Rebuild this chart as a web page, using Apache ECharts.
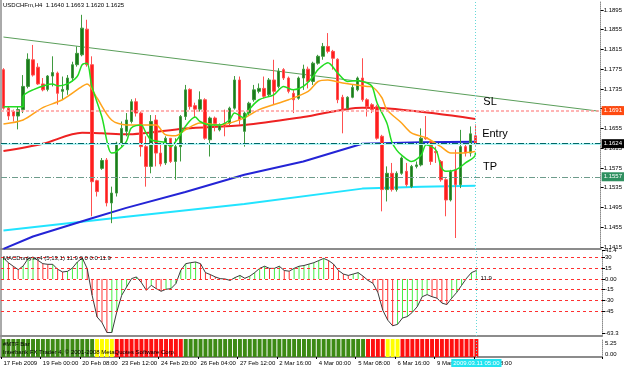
<!DOCTYPE html>
<html>
<head>
<meta charset="utf-8">
<script src="https://cdn.jsdelivr.net/npm/echarts@6/dist/echarts.min.js"></script>
<style>
html, body { margin: 0; padding: 0; background: #fff; }
#chart { width: 625px; height: 368px; }
</style>
</head>
<body>
<div id="chart"></div>
<script>
// USDCHFm H4 candles
var opens = [1.1774,1.1696,1.1689,1.1680,1.1693,1.1740,1.1794,1.1779,1.1745,1.1734,
  1.1761,1.1767,1.1730,1.1733,1.1757,1.1784,1.1804,1.1856,1.1784,1.1549,
  1.1574,1.1591,1.1504,1.1524,1.1625,1.1649,1.1669,1.1709,1.1686,1.1618,
  1.1578,1.1672,1.1605,1.1585,1.1635,1.1588,1.1618,1.1679,1.1734,1.1701,
  1.1694,1.1713,1.1632,1.1676,1.1652,1.1665,1.1665,1.1696,1.1753,1.1649,
  1.1686,1.1713,1.1730,1.1736,1.1723,1.1753,1.1740,1.1774,1.1757,1.1726,
  1.1716,1.1757,1.1775,1.1750,1.1787,1.1801,1.1821,1.1811,1.1795,1.1718,
  1.1696,1.1718,1.1733,1.1757,1.1713,1.1703,1.1699,1.1639,1.1531,1.1564,
  1.1531,1.1564,1.1568,1.1537,1.1578,1.1581,1.1636,1.1628,1.1608,1.1588,
  1.1551,1.1510,1.1571,1.1541,1.1618,1.1605,1.1640];
var highs = [1.1777,1.1699,1.1693,1.1699,1.1763,1.1807,1.1824,1.1787,1.1757,1.1763,
  1.1801,1.1770,1.1760,1.1763,1.1790,1.1821,1.1885,1.1875,1.1801,1.1551,
  1.1595,1.1595,1.1537,1.1628,1.1669,1.1686,1.1714,1.1716,1.1689,1.1639,
  1.1682,1.1682,1.1622,1.1639,1.1635,1.1635,1.1682,1.1743,1.1736,1.1707,
  1.1730,1.1716,1.1679,1.1679,1.1665,1.1693,1.1699,1.1761,1.1760,1.1689,
  1.1709,1.1743,1.1746,1.1760,1.1757,1.1794,1.1777,1.1777,1.1760,1.1733,
  1.1760,1.1784,1.1780,1.1790,1.1804,1.1828,1.1848,1.1814,1.1797,1.1723,
  1.1720,1.1743,1.1760,1.1797,1.1716,1.1706,1.1703,1.1642,1.1578,1.1585,
  1.1568,1.1598,1.1585,1.1581,1.1588,1.1655,1.1680,1.1632,1.1618,1.1591,
  1.1554,1.1571,1.1612,1.1652,1.1625,1.1659,1.1663];
var lows = [1.1693,1.1672,1.1669,1.1653,1.1686,1.1736,1.1760,1.1743,1.1730,1.1730,
  1.1740,1.1703,1.1713,1.1723,1.1750,1.1780,1.1801,1.1780,1.1477,1.1517,
  1.1571,1.1497,1.1463,1.1517,1.1618,1.1639,1.1665,1.1679,1.1598,1.1537,
  1.1564,1.1578,1.1578,1.1581,1.1585,1.1551,1.1588,1.1672,1.1693,1.1676,
  1.1689,1.1632,1.1598,1.1649,1.1649,1.1639,1.1662,1.1693,1.1662,1.1618,
  1.1682,1.1709,1.1726,1.1716,1.1720,1.1703,1.1736,1.1753,1.1726,1.1686,
  1.1713,1.1733,1.1736,1.1743,1.1784,1.1794,1.1807,1.1774,1.1706,1.1645,
  1.1693,1.1716,1.1730,1.1709,1.1679,1.1686,1.1632,1.1487,1.1507,1.1527,
  1.1527,1.1561,1.1537,1.1534,1.1574,1.1578,1.1632,1.1581,1.1585,1.1547,
  1.1477,1.1507,1.1433,1.1534,1.1598,1.1598,1.1620];
var closes = [1.1696,1.1680,1.1680,1.1693,1.1740,1.1795,1.1763,1.1745,1.1733,1.1761,
  1.1768,1.1726,1.1734,1.1757,1.1784,1.1807,1.1858,1.1784,1.1547,1.1527,
  1.1590,1.1504,1.1524,1.1625,1.1655,1.1672,1.1709,1.1686,1.1618,1.1578,
  1.1669,1.1605,1.1583,1.1635,1.1588,1.1618,1.1679,1.1733,1.1699,1.1694,
  1.1713,1.1635,1.1676,1.1665,1.1662,1.1659,1.1696,1.1753,1.1672,1.1686,
  1.1706,1.1733,1.1736,1.1720,1.1753,1.1730,1.1771,1.1757,1.1730,1.1713,
  1.1757,1.1775,1.1750,1.1787,1.1801,1.1821,1.1811,1.1797,1.1713,1.1693,
  1.1718,1.1738,1.1757,1.1713,1.1699,1.1693,1.1635,1.1531,1.1564,1.1531,
  1.1564,1.1595,1.1541,1.1578,1.1581,1.1635,1.1634,1.1588,1.1606,1.1551,
  1.1510,1.1568,1.1541,1.1618,1.1605,1.1644,1.1625];

// moving averages, [bar index, price] read at turning points
var maFast = [[0,1.1699],[3.5,1.1699],[4.2,1.1719],[6.2,1.1733],[9.6,1.1745],[11,1.1741],[13,1.1745],
  [14.7,1.1760],[15.7,1.1784],[17,1.1787],[18.1,1.1740],[19.8,1.1679],[21.8,1.1605],[22.8,1.1608],
  [24.8,1.1628],[25.9,1.1656],[27.9,1.1662],[28.9,1.1646],[29.9,1.1632],[32.6,1.1626],[33.6,1.1618],
  [35,1.1628],[36,1.1642],[37.4,1.1659],[39.4,1.1678],[40.4,1.1669],[42.1,1.1662],[44.1,1.1662],
  [46.1,1.1672],[47.2,1.1686],[49.2,1.1676],[50.2,1.1693],[52.2,1.1713],[54.9,1.1723],[57,1.1740],
  [59,1.1733],[61,1.1740],[62.7,1.1760],[64.4,1.1774],[66.1,1.1788],[67.8,1.1767],[69.5,1.1750],
  [71.5,1.1752],[73.5,1.1747],[74.5,1.1740],[76.2,1.1707],[77.6,1.1666],[78.6,1.1628],[80,1.1611],
  [81.3,1.1601],[83.3,1.1588],[85,1.1601],[86.4,1.1622],[87.7,1.1611],[89.1,1.1578],[90.4,1.1568],
  [91.8,1.1571],[93.5,1.1585],[95.5,1.1601],[96,1.1605]];
var maMid = [[0,1.1664],[3.5,1.1672],[7.6,1.1697],[11.7,1.1713],[15.7,1.1740],[17,1.1745],[19,1.1717],
  [21.8,1.1672],[24.8,1.1662],[30.5,1.1662],[33.3,1.1642],[35.3,1.1640],[36.6,1.1652],[40,1.1666],
  [44,1.1662],[49,1.1676],[52,1.1693],[58,1.1713],[61.7,1.1730],[64.4,1.1750],[66.4,1.1753],
  [68.5,1.1747],[73.5,1.1740],[74.5,1.1739],[76.6,1.1717],[78,1.1693],[80.6,1.1666],[83.3,1.1646],
  [86,1.1636],[88.7,1.1618],[91.4,1.1605],[93.4,1.1605],[96,1.1608]];
var maSlow = [[0,1.1609],[8,1.1624],[16,1.1646],[20,1.1645],[25,1.1643],[37,1.1655],[49,1.1662],
  [61,1.1678],[73,1.1697],[79,1.1695],[88,1.1685],[96,1.1674]];
var ma100 = [[0,1.1411],[6,1.1436],[18,1.1473],[25,1.1494],[37,1.1526],[49,1.1561],[61,1.1588],
  [73,1.1624],[85,1.1627],[96,1.1628]];
var ma200 = [[0,1.1448],[25,1.1476],[49,1.1502],[73,1.1533],[85,1.1537],[96,1.1539]];
var trendLine = [[0,1.1840],[121,1.1690]];

// levels drawn on the chart
var slLevel = 1.1691, entryLevel = 1.1624, tpLevel = 1.1557;
var priceTicks = [1.1415,1.1455,1.1495,1.1535,1.1575,1.1615,1.1655,1.1695,1.1735,1.1775,1.1815,1.1855,1.1895];

// MACDonly (5,13,1) per bar
var macd = [29.6,23,17.9,13.2,18.4,28.7,31,26.3,21.6,20.7,
  20.7,13.7,9.9,10.8,15.5,24,29.6,14.6,-23,-53.5,
  -61.5,-75.5,-75.5,-46.4,-23,-11.2,0.5,2.9,-5.1,-15.9,
  -8.9,-13.6,-17.3,-14.5,-13.6,-6.5,12.3,21.6,23,24,
  21.6,9,6.2,2.9,0.5,0,-2,2,5,1,
  4,9,15,18,15,15,18,12,11,15,
  18,19,21,23,26,29,26,21,12,7,
  5,7,9,4,-2,-6,-19,-44,-58,-66,
  -64,-55,-53,-47,-39,-25,-22,-25,-27,-34,
  -36,-27,-19,-9,1,9,12];
var macdLevels = [30, 15, 0, -15, -30, -45];
var macdLast = '11.9';
// scale labels as printed at the right of the MACD window: [position, text]
var macdScale = [[40.9, '41.4'], [30, '30'], [15, '15'], [0, '0.00'], [-15, '-15'], [-30, '-30'], [-45, '-45'], [-76, '-63.3']];
// scale labels of the #MTF Bar window
var mtfScale = [[0.78, '5.25'], [0.17, '0.00']];

// #MTF Bar state runs: [number of bars, state]
var mtfRuns = [[19,'up'],[4,'flat'],[14,'down'],[37,'up'],[4,'down'],[3,'flat'],[16,'down']];

var xTickLabels = ['17 Feb 2009','19 Feb 00:00','20 Feb 08:00','23 Feb 12:00','24 Feb 20:00',
  '26 Feb 04:00','27 Feb 12:00','2 Mar 16:00','4 Mar 00:00','5 Mar 08:00','6 Mar 16:00',
  '9 Mar 00:00','10 Mar 08:00'];
var xTickStep = 8;
var cursorBar = 96;
var cursorTime = '2009.03.11 05:00';

var N = 122;  // slots on the time axis, incl. empty space right of the last bar
var cats = [];
for (var i = 0; i < N; i++) cats.push(String(i));

var candles = opens.map(function (o, i) { return [o, closes[i], lows[i], highs[i]]; });

var mtfColors = { up: '#3d8a14', flat: '#ffff00', down: '#ff1010' };
var mtfData = [];
mtfRuns.forEach(function (r) {
  for (var j = 0; j < r[0]; j++) mtfData.push({ value: 1, itemStyle: { color: mtfColors[r[1]] } });
});

var FONT = 'Liberation Sans';

function scaleLookup(list) {
  return function (v) {
    for (var k = 0; k < list.length; k++) if (Math.abs(list[k][0] - v) < 1e-6) return list[k][1];
    return '';
  };
}

function xAxisFor(gridIndex, showLabels) {
  return {
    type: 'category', gridIndex: gridIndex, data: cats, boundaryGap: true,
    axisLine: { show: true, onZero: false, lineStyle: { color: '#8c8c8c', width: 2 } },
    axisTick: showLabels ? {
      show: true, length: 2, lineStyle: { color: '#000' },
      interval: function (idx) { return idx % xTickStep === 0 && idx / xTickStep < xTickLabels.length; }
    } : { show: false },
    axisLabel: showLabels ? {
      show: true, interval: 0, align: 'left', margin: 3,
      fontFamily: FONT, fontSize: 6, color: '#000',
      formatter: function (v, idx) { return idx % xTickStep === 0 ? (xTickLabels[idx / xTickStep] || '') : ''; }
    } : { show: false },
    splitLine: { show: false }
  };
}

function panelTitle(text, top) {
  return { text: text, left: 3, top: top, padding: 0,
    textStyle: { fontFamily: FONT, fontSize: 6, fontWeight: 'normal', color: '#000' } };
}

var cursorLine = { xAxis: cursorBar, lineStyle: { color: '#66d8d8', type: [1, 2], width: 1 }, label: { show: false } };

var chart = echarts.init(document.getElementById('chart'));

chart.setOption({
  animation: false,
  backgroundColor: '#fff',
  title: [
    panelTitle('USDCHFm,H4  1.1640 1.1663 1.1620 1.1625', 2),
    panelTitle('MACDonly.ex4 (5,13,1) 11.9 0.0 0.0 11.9', 255),
    panelTitle('#MTF Bar', 341),
    panelTitle('Interbank FX Trader 4, \u00a9 2001-2008 MetaQuotes Software Corp.', 349)
  ],
  graphic: [
    { type: 'line', shape: { x1: 1, y1: 0, x2: 1, y2: 358 }, style: { stroke: '#555', lineWidth: 1 } }
  ],
  grid: [
    { left: 1, width: 601, top: 1, height: 248 },
    { left: 1, width: 601, top: 250, height: 86 },
    { left: 1, width: 601, top: 339, height: 18 }
  ],
  xAxis: [xAxisFor(0, false), xAxisFor(1, false), xAxisFor(2, true)],
  yAxis: [
    { type: 'value', gridIndex: 0, position: 'right', min: 1.14107, max: 1.1913,
      axisLine: { show: true, lineStyle: { color: '#8c8c8c', type: 'dotted' } },
      axisTick: { show: true, length: 3, customValues: priceTicks, lineStyle: { color: '#000' } },
      axisLabel: { show: true, customValues: priceTicks, margin: 3, fontFamily: FONT,
        fontSize: 6, color: '#000', formatter: function (v) { return v.toFixed(4); } },
      splitLine: { show: false } },
    { type: 'value', gridIndex: 1, position: 'right', min: -80.4, max: 40.9,
      axisLine: { show: true, lineStyle: { color: '#8c8c8c', type: 'dotted' } },
      axisTick: { show: true, length: 3, customValues: macdScale.map(function (s) { return s[0]; }), lineStyle: { color: '#000' } },
      axisLabel: { show: true, customValues: macdScale.map(function (s) { return s[0]; }), margin: 3, fontFamily: FONT,
        fontSize: 6, color: '#000', hideOverlap: false, showMinLabel: true, showMaxLabel: true,
        formatter: scaleLookup(macdScale) },
      splitLine: { show: false } },
    { type: 'value', gridIndex: 2, position: 'right', min: 0, max: 1,
      axisLine: { show: true, lineStyle: { color: '#8c8c8c', type: 'dotted' } },
      axisTick: { show: false },
      axisLabel: { show: true, customValues: mtfScale.map(function (s) { return s[0]; }), margin: 3, fontFamily: FONT,
        fontSize: 6, color: '#000', formatter: scaleLookup(mtfScale) },
      splitLine: { show: false } }
  ],
  series: [
    { name: 'trend', type: 'line', xAxisIndex: 0, yAxisIndex: 0, data: trendLine, symbol: 'none',
      lineStyle: { color: '#5a9e5a', width: 1 }, z: 1 },
    { name: 'ma200', type: 'line', xAxisIndex: 0, yAxisIndex: 0, data: ma200, symbol: 'none', clip: false,
      lineStyle: { color: '#22e4ff', width: 2 }, z: 2 },
    { name: 'ma100', type: 'line', xAxisIndex: 0, yAxisIndex: 0, data: ma100, symbol: 'none', clip: false,
      lineStyle: { color: '#2424d6', width: 2 }, z: 2 },
    { name: 'ma50', type: 'line', xAxisIndex: 0, yAxisIndex: 0, data: maSlow, symbol: 'none', smooth: 0.3,
      lineStyle: { color: '#ee2222', width: 2 }, z: 2 },
    { name: 'candles', type: 'candlestick', xAxisIndex: 0, yAxisIndex: 0, data: candles, barWidth: 3,
      itemStyle: { color: '#1c7a1c', color0: '#ff1e1e', borderColor: '#3f9a3f', borderColor0: '#ff5050', borderWidth: 1 },
      z: 3,
      markLine: {
        silent: true, symbol: ['none', 'none'], animation: false, precision: 4,
        label: { position: 'end', distance: 1, fontFamily: FONT, fontSize: 6,
          color: '#fff', padding: [2, 2, 1, 2] },
        data: [
          { yAxis: slLevel, lineStyle: { color: '#ff9c9c', type: [3, 2], width: 1.5 },
            label: { formatter: slLevel.toFixed(4), backgroundColor: '#ff4a10' } },
          { yAxis: slLevel, lineStyle: { opacity: 0 },
            label: { formatter: '23.6', position: 'insideEndTop', distance: 1, color: '#ff55bb', padding: 0, backgroundColor: 'transparent' } },
          { yAxis: entryLevel, lineStyle: { color: '#b2f4f4', type: 'solid', width: 2 },
            label: { show: false } },
          { yAxis: entryLevel, lineStyle: { color: '#006868', type: [6, 2, 1, 2], width: 1 },
            label: { formatter: entryLevel.toFixed(4), backgroundColor: '#000' } },
          { yAxis: tpLevel, lineStyle: { color: '#6e9c8c', type: [6, 2, 1, 2], width: 1 },
            label: { formatter: tpLevel.toFixed(4), backgroundColor: '#2f9060' } },
          cursorLine
        ]
      },
      markPoint: {
        silent: true, symbol: 'rect', symbolSize: 1, itemStyle: { color: 'transparent' },
        label: { show: true, position: 'inside', fontFamily: FONT, fontSize: 11, color: '#000' },
        data: [
          { coord: [99, 1.1708], label: { formatter: 'SL' } },
          { coord: [99.5, 1.1643], label: { formatter: 'Entry' } },
          { coord: [99, 1.1576], label: { formatter: 'TP' } }
        ]
      } },
    { name: 'ma13', type: 'line', xAxisIndex: 0, yAxisIndex: 0, data: maMid, symbol: 'none', smooth: 0.3,
      lineStyle: { color: '#ffa31a', width: 1.5 }, z: 4 },
    { name: 'ma5', type: 'line', xAxisIndex: 0, yAxisIndex: 0, data: maFast, symbol: 'none', smooth: 0.3,
      lineStyle: { color: '#22dd22', width: 1.5 }, z: 4 },

    { name: 'macdHist', type: 'bar', xAxisIndex: 1, yAxisIndex: 1, data: macd, barWidth: 1,
      itemStyle: { color: function (p) {
        var prev = p.dataIndex > 0 ? macd[p.dataIndex - 1] : macd[0];
        return macd[p.dataIndex] >= prev ? '#44ee44' : '#ff3434';
      } },
      markLine: {
        silent: true, symbol: ['none', 'none'], label: { show: false }, precision: 2,
        lineStyle: { color: '#ff3030', type: [3, 3], width: 1 },
        data: macdLevels.map(function (v) { return { yAxis: v }; }).concat([cursorLine])
      } },
    { name: 'macdLine', type: 'line', xAxisIndex: 1, yAxisIndex: 1, data: macd, symbol: 'none',
      lineStyle: { color: '#3c3c3c', width: 1 },
      markPoint: {
        silent: true, symbol: 'rect', symbolSize: 1, itemStyle: { color: 'transparent' },
        label: { show: true, position: 'inside', fontFamily: FONT, fontSize: 6, color: '#000' },
        data: [{ coord: [98, 1], label: { formatter: macdLast } }]
      } },

    { name: 'mtf', type: 'bar', xAxisIndex: 2, yAxisIndex: 2, data: mtfData, barWidth: '80%',
      markLine: {
        silent: true, symbol: ['none', 'none'],
        data: [{ xAxis: cursorBar, lineStyle: { color: '#66d8d8', type: [1, 2], width: 1 },
          label: { show: true, position: 'start', formatter: cursorTime, distance: 2,
            fontFamily: FONT, fontSize: 6, color: '#fff', backgroundColor: '#22e4f0',
            padding: [1, 2] } }]
      } }
  ]
});
</script>
</body>
</html>
